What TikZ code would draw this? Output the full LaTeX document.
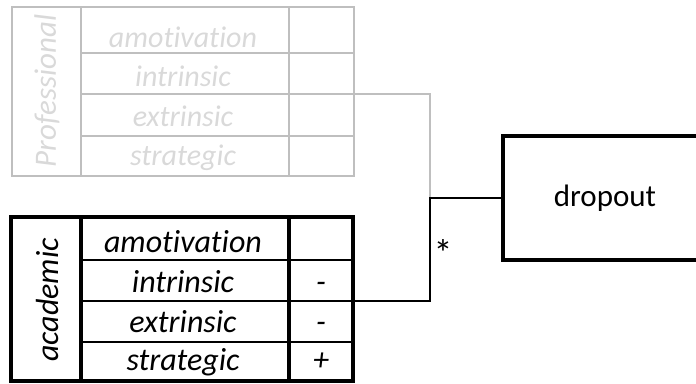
\documentclass[tikz,border=0pt]{standalone}
\usepackage{fontspec}
\setmainfont[Ligatures=CommonOff]{Carlito}
\usetikzlibrary{positioning}
\tikzstyle{every node}=[inner sep=0pt, outer sep=0pt]
\tikzstyle{frame}=[draw=black, line width=4pt]
\tikzstyle{rule}=[draw=black, line width=2.7pt]
\tikzstyle{faded}=[draw=gray!50, line width=2.5pt]
\tikzstyle{entry}=[font=\fontsize{32}{36}\selectfont\itshape, anchor=base]
\tikzstyle{fadedentry}=[entry, text=gray!30, font=\fontsize{30}{34}\selectfont\itshape]
\tikzstyle{plain}=[font=\fontsize{31}{36}\selectfont]

\begin{document}
\begin{tikzpicture}[x=1pt, y=-1pt]
	\useasboundingbox (0,0) rectangle (696,383);
	
	% professional table (faded)
	\foreach \y in {53,94,136} \draw[faded] (81,\y) -- (354,\y);
	\foreach \x in {81,289} \draw[faded] (\x,7) -- (\x,176);
	\node[faded, minimum width=342pt, minimum height=169pt] at (183,91.5) (prof) {};
	\node[fadedentry, anchor=center, rotate=90, font=\fontsize{31}{34}\selectfont\itshape] at (47,91) (profname) {Professional};
	\node[fadedentry] at (183,47) (profA) {amotivation};
	\node[fadedentry] at (183,86) (profB) {intrinsic};
	\node[fadedentry] at (183,126) (profC) {extrinsic};
	\node[fadedentry] at (183,165) (profD) {strategic};
	
	% academic table
	\foreach \y in {260,301,342} \draw[rule] (81,\y) -- (353,\y);
	\foreach \x in {81,289} \draw[frame] (\x,217) -- (\x,381);
	\node[frame, minimum width=342pt, minimum height=164pt] at (182,299) (acad) {};
	\node[entry, anchor=center, rotate=90] at (47,300) (acadname) {academic};
	\node[entry] at (183,252) (acadA) {amotivation};
	\node[entry] at (183,292) (acadB) {intrinsic};
	\node[entry] at (183,332) (acadC) {extrinsic};
	\node[entry] at (183,370) (acadD) {strategic};
	\node[entry] at (321,292) (acadBv) {-};
	\node[entry] at (321,332) (acadCv) {-};
	\node[entry] at (321,370) (acadDv) {+};
	
	\node[frame, plain, minimum width=204pt, minimum height=124pt] at (605,198) (dropout) {dropout};
	
	\coordinate (profI) at (354,94);
	\coordinate (acadI) at (353,301);
	\coordinate (join) at (430,198);
	\draw[faded] (profI) -| (join);
	\draw[rule] (acadI) -| (join) -- (dropout.west);
	\node[plain, anchor=base, font=\fontsize{38}{40}\selectfont] at (443,266) (mult) {*};
	
\end{tikzpicture}
\end{document}
